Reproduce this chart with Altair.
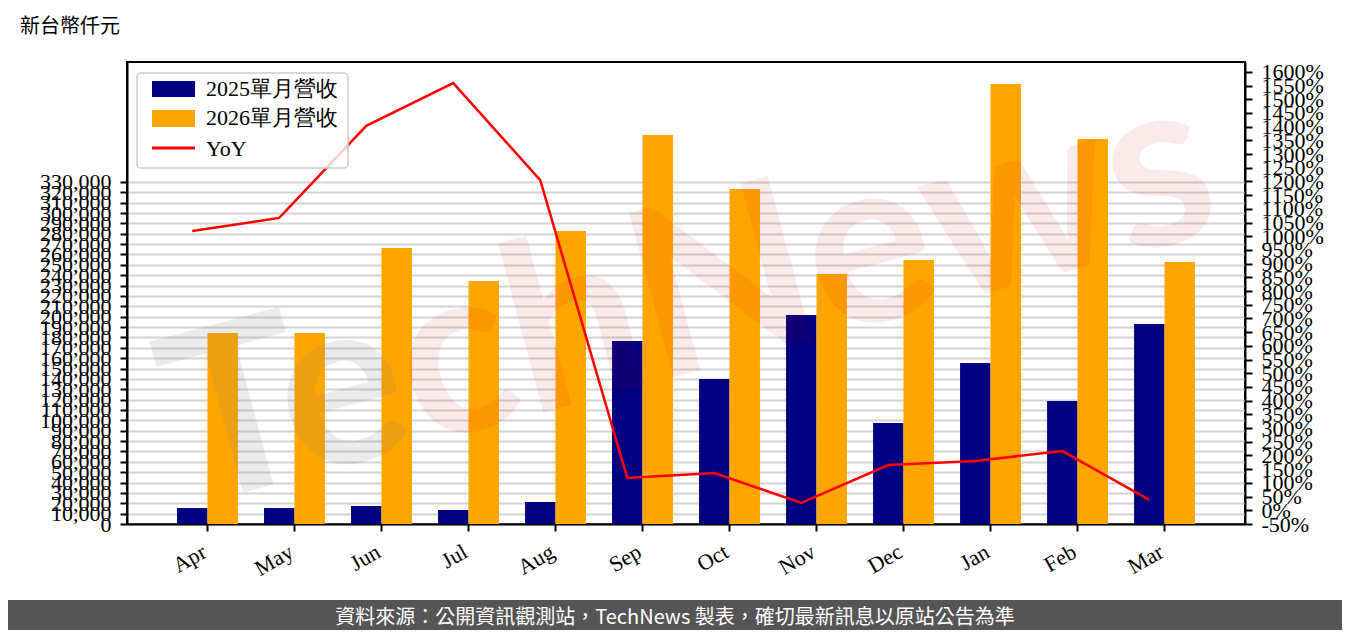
import altair as alt
import pandas as pd

# ---- data ----
months = ["Apr", "May", "Jun", "Jul", "Aug", "Sep", "Oct", "Nov", "Dec", "Jan", "Feb", "Mar"]
rev_2025 = [15400, 15400, 17400, 13500, 21200, 176600, 139900, 201700, 97500, 155300, 118700, 193000]
rev_2026 = [184300, 184300, 266300, 234500, 282700, 375300, 323200, 241200, 254700, 424500, 371500, 252800]
yoy_pct = [1019, 1067, 1403, 1559, 1205, 118, 136, 27, 165, 180, 216, 38]
series = ["2025單月營收", "2026單月營收"]
line_label = "YoY"
left_ticks = list(range(0, 330001, 10000))
right_ticks = list(range(-50, 1601, 50))
unit_title = "新台幣仟元"
footer_text = "資料來源：公開資訊觀測站，TechNews 製表，確切最新訊息以原站公告為準"
watermark_parts = ["Te", "chNews"]

bar_colors = ["#000080", "#FFA500"]
line_color = "#FF0000"
serif = "Liberation Serif"
sans = "Noto Sans CJK TC"
tick_fs = 22

bars_df = pd.DataFrame({
    "month": months * 2,
    "series": [series[0]] * len(months) + [series[1]] * len(months),
    "value": rev_2025 + rev_2026,
})
line_df = pd.DataFrame({"month": months, "yoy": yoy_pct})

x_enc = alt.X(
    "month:N", sort=months,
    scale=alt.Scale(paddingInner=0.3, paddingOuter=0.575),
    axis=alt.Axis(title=None, labelAngle=-30, labelAlign="right", labelBaseline="top",
                  labelFont=serif, labelFontSize=tick_fs, labelColor="black",
                  tickSize=7, tickWidth=2, tickColor="black",
                  domainColor="black", domainWidth=2, labelPadding=10,
                  labelOffset=-8),
)

bars = alt.Chart(bars_df).mark_bar().encode(
    x=x_enc,
    xOffset=alt.XOffset("series:N", sort=series, scale=alt.Scale(paddingInner=0, paddingOuter=0)),
    y=alt.Y("value:Q",
            scale=alt.Scale(domain=[0, 445700], nice=False, zero=True),
            axis=alt.Axis(title=None, values=left_ticks, format=",.0f", grid=True,
                          gridColor="#d3d3d3", gridWidth=2, labelOverlap=False, labelFlush=False,
                          labelFont=serif, labelFontSize=tick_fs, labelColor="black",
                          tickSize=7, tickWidth=2, tickColor="black",
                          domainColor="black", domainWidth=2, labelPadding=9)),
    color=alt.Color("series:N", scale=alt.Scale(domain=series, range=bar_colors), legend=None),
)

line = alt.Chart(line_df).mark_line(color=line_color, strokeWidth=2.5).encode(
    x=alt.X("month:N", sort=months, bandPosition=0.25),
    y=alt.Y("yoy:Q",
            scale=alt.Scale(domain=[-50, 1636], nice=False, zero=False),
            axis=alt.Axis(orient="right", title=None, values=right_ticks,
                          labelExpr="datum.value + '%'", grid=False,
                          labelOverlap=False, labelFlush=False,
                          labelFont=serif, labelFontSize=tick_fs, labelColor="black",
                          tickSize=7, tickWidth=2, tickColor="black",
                          domainColor="black", domainWidth=2, labelPadding=9)),
)

one = pd.DataFrame({"k": [0]})

wm_gray = alt.Chart(one).mark_text(
    text=watermark_parts[0], font="Lato", fontWeight="bold", fontSize=235,
    angle=345, align="right", baseline="alphabetic", color="#808080", opacity=0.15,
).encode(x=alt.value(293), y=alt.value(383))
wm_pink = alt.Chart(one).mark_text(
    text=watermark_parts[1], font="Lato", fontWeight="bold", fontSize=235,
    angle=345, align="left", baseline="alphabetic", color="#d00000", opacity=0.08,
).encode(x=alt.value(293), y=alt.value(383))

# legend box
leg_box = alt.Chart(one).mark_rect(
    fill="white", fillOpacity=0.8, stroke="#cccccc", strokeWidth=1.5, cornerRadius=4,
).encode(x=alt.value(10), x2=alt.value(221), y=alt.value(11), y2=alt.value(106))
leg_sw1 = alt.Chart(one).mark_rect(color=bar_colors[0]).encode(
    x=alt.value(25), x2=alt.value(68), y=alt.value(19), y2=alt.value(35))
leg_sw2 = alt.Chart(one).mark_rect(color=bar_colors[1]).encode(
    x=alt.value(25), x2=alt.value(68), y=alt.value(48), y2=alt.value(65))
leg_ln = alt.Chart(one).mark_rule(color=line_color, strokeWidth=3).encode(
    x=alt.value(25), x2=alt.value(68), y=alt.value(86))
leg_t1 = alt.Chart(one).mark_text(text=series[0], font=serif, fontSize=22, align="left",
                                  baseline="middle", color="black").encode(
    x=alt.value(79), y=alt.value(27))
leg_t2 = alt.Chart(one).mark_text(text=series[1], font=serif, fontSize=22, align="left",
                                  baseline="middle", color="black").encode(
    x=alt.value(79), y=alt.value(56))
leg_t3 = alt.Chart(one).mark_text(text=line_label, font=serif, fontSize=22, align="left",
                                  baseline="middle", color="black").encode(
    x=alt.value(79), y=alt.value(87))

title_t = alt.Chart(one).mark_text(text=unit_title, font=sans, fontSize=20, align="left",
                                   baseline="middle", color="black").encode(
    x=alt.value(-107), y=alt.value(-35))

footer_band = alt.Chart(one).mark_rect(color="#555555").encode(
    x=alt.value(-119), x2=alt.value(1215), y=alt.value(538), y2=alt.value(568))
footer_t = alt.Chart(one).mark_text(text=footer_text, font=sans, fontSize=20, align="center",
                                    baseline="middle", color="white").encode(
    x=alt.value(548), y=alt.value(556))

chart = alt.layer(
    bars, wm_gray, wm_pink, line,
    leg_box, leg_sw1, leg_sw2, leg_ln, leg_t1, leg_t2, leg_t3,
    title_t, footer_band, footer_t,
).resolve_scale(y="independent").properties(
    width=1118, height=462,
    padding={"left": 119, "top": 54, "right": 97, "bottom": 106},
    autosize=alt.AutoSizeParams(type="none"),
    background="white",
).configure_view(stroke="black", strokeWidth=2)

chart.save("out.html", embed_options={"renderer": "svg", "actions": False})
